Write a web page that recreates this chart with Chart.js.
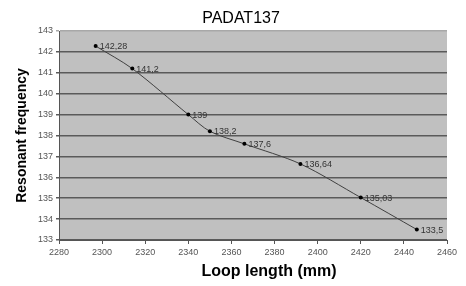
<!DOCTYPE html>
<html>
<head>
<meta charset="utf-8">
<script src="https://cdn.jsdelivr.net/npm/chart.js@4/dist/chart.umd.min.js"></script>
<style>
  html, body { margin: 0; padding: 0; background: #fff; }
  #wrap { width: 466px; height: 286px; position: relative; }
</style>
</head>
<body>
<div id="wrap"><canvas id="chart"></canvas></div>
<script>
// ===== data =====
const loopLength = [2297, 2314, 2340, 2350, 2366, 2392, 2420, 2446];
const frequency = [142.28, 141.2, 139, 138.2, 137.6, 136.64, 135.03, 133.5];
const pointLabels = ["142,28", "141,2", "139", "138,2", "137,6", "136,64", "135,03", "133,5"];

const TITLE = "PADAT137";
const X_TITLE = "Loop length (mm)";
const Y_TITLE = "Resonant frequency";

// plot background + titles + point labels
const decor = {
  id: "decor",
  beforeDraw(chart) {
    const { ctx, chartArea: a } = chart;
    ctx.save();
    ctx.fillStyle = "#c0c0c0";
    ctx.fillRect(a.left, a.top, a.right - a.left, a.bottom - a.top);
    ctx.restore();
  },
  afterDraw(chart) {
    const { ctx } = chart;
    const meta = chart.getDatasetMeta(0);
    ctx.save();
    ctx.fillStyle = "#000";
    ctx.textAlign = "center";
    ctx.textBaseline = "middle";
    ctx.font = "16px 'Liberation Sans', Arial, sans-serif";
    ctx.fillText(TITLE, 241, 19);
    ctx.font = "bold 16px 'Liberation Sans', Arial, sans-serif";
    ctx.fillText(X_TITLE, 269, 272);

    ctx.font = "9px 'Liberation Sans', Arial, sans-serif";
    ctx.fillStyle = "#333";
    ctx.textAlign = "left";
    meta.data.forEach((pt, i) => {
      ctx.fillText(pointLabels[i], pt.x + 4, pt.y + 0.5);
    });
    ctx.restore();
  }
};

const ctx = document.getElementById("chart").getContext("2d");
new Chart(ctx, {
  type: "line",
  data: {
    datasets: [{
      data: loopLength.map((x, i) => ({ x, y: frequency[i] })),
      borderColor: "#404040",
      borderWidth: 1,
      pointRadius: 2,
      pointBackgroundColor: "#000",
      pointBorderWidth: 0,
      tension: 0.3,
      fill: false
    }]
  },
  options: {
    responsive: true,
    maintainAspectRatio: false,
    animation: false,
    layout: { padding: { top: 31, right: 19, left: 0, bottom: 0 } },
    plugins: {
      legend: { display: false },
      title: { display: false },
      tooltip: { enabled: false }
    },
    scales: {
      x: {
        type: "linear",
        min: 2280,
        max: 2460,
        ticks: {
          stepSize: 20,
          color: "#555",
          font: { size: 9, family: "'Liberation Sans', Arial, sans-serif" },
          padding: 3,
          maxRotation: 0,
          callback: (v) => String(v)
        },
        grid: { drawOnChartArea: false, drawTicks: true, tickLength: 4, color: "#555" },
        border: { color: "#555", width: 1 },
        afterFit(scale) { scale.height = 46; }
      },
      y: {
        min: 133,
        max: 143,
        ticks: {
          stepSize: 1,
          color: "#555",
          font: { size: 9, family: "'Liberation Sans', Arial, sans-serif" },
          padding: 3
        },
        grid: {
          color: (c) => (c.tick && c.tick.value === 143 ? "#a8a8a8" : "#5a5a5a"),
          lineWidth: 1.5,
          tickLength: 3
        },
        border: { color: "#555", width: 1 },
        title: {
          display: true,
          text: Y_TITLE,
          color: "#000",
          font: { size: 14, weight: "bold", family: "'Liberation Sans', Arial, sans-serif" },
          padding: { top: 14, bottom: 0 }
        },
        afterFit(scale) { scale.width = 59; }
      }
    }
  },
  plugins: [decor]
});
</script>
</body>
</html>
